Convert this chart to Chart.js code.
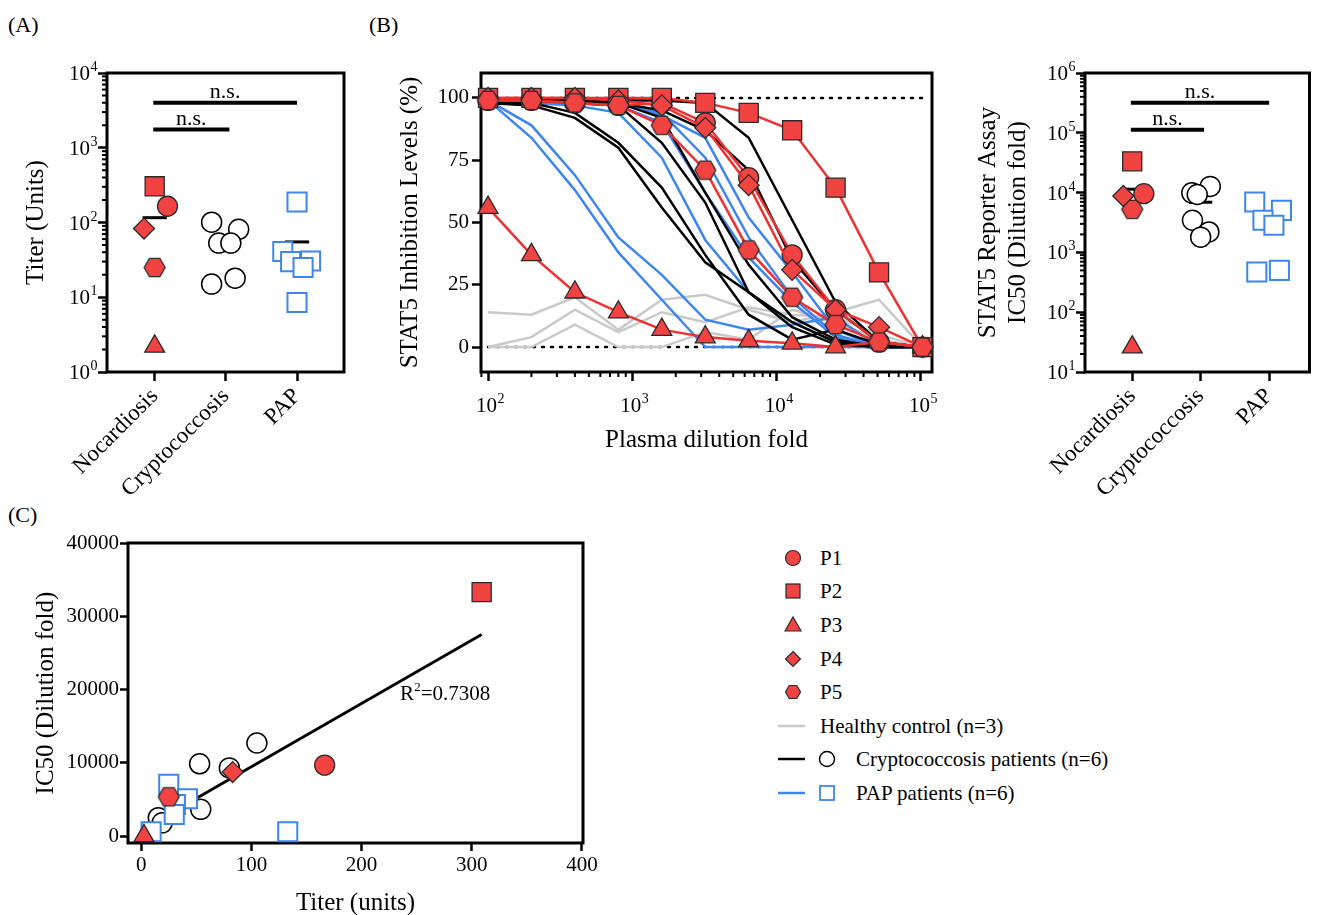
<!DOCTYPE html>
<html><head><meta charset="utf-8">
<script src="https://cdn.jsdelivr.net/npm/chart.js@4.4.1/dist/chart.umd.min.js"></script>
<style>
body{margin:0;background:#fff;width:1325px;height:915px;position:relative;overflow:hidden;font-family:"Liberation Serif","Times New Roman",serif;color:#000;}
canvas{position:absolute;}
.pl{position:absolute;font-size:22px;line-height:26px;}
.lg{position:absolute;left:776px;font-size:21px;line-height:24px;height:24px;white-space:nowrap;}
.lg svg{position:absolute;top:0;}
.lg span{position:absolute;top:0;}
</style></head><body>
<div class="pl" style="left:8px;top:12px">(A)</div>
<div class="pl" style="left:369px;top:12px">(B)</div>
<div class="pl" style="left:8px;top:502px">(C)</div>
<canvas id="cA" width="360" height="450" style="left:0;top:50px"></canvas>
<canvas id="cB" width="580" height="420" style="left:370px;top:50px"></canvas>
<canvas id="cR" width="365" height="450" style="left:960px;top:50px"></canvas>
<canvas id="cC" width="610" height="410" style="left:0;top:520px"></canvas>
<div id="legend"></div>
<script>
// ---------------- DATA ----------------
const groups = ['Nocardiosis', 'Cryptococcosis', 'PAP'];
const patientNames = ['P1', 'P2', 'P3', 'P4', 'P5'];

// Panel A: titer (Units)
const titerPatients = [165, 305, 2.2, 83, 25];
const titerPatientsJitter = [0.18, 0, 0, -0.15, 0];
const titerCrypto = [101, 81, 53, 53, 15, 18];
const titerCryptoJitter = [-0.2, 0.18, -0.1, 0.07, -0.2, 0.13];
const titerPAP = [188, 41, 30, 30.5, 25, 8.5];
const titerPAPJitter = [0, -0.2, -0.09, 0.19, 0.085, 0];
const titerMeans = [116, 53, 55];

// Panel B: STAT5 inhibition (%)
const dilutions = [100, 200, 400, 800, 1600, 3200, 6400, 12800, 25600, 51200, 102400];
const inhibP1 = [99, 99, 98, 97, 98, 90, 68, 37, 15, 2, 0];
const inhibP2 = [100, 100, 100, 100, 100, 98, 94, 87, 64, 30, 0];
const inhibP3 = [56, 37, 22, 14, 7, 4, 2.5, 1.5, 0, 2, 0];
const inhibP4 = [100, 100, 100, 99, 97, 88, 65, 31, 15, 8, 0];
const inhibP5 = [99, 99, 98, 97, 89, 71, 39, 20, 9, 2, 0];
const inhibHealthy1 = [14, 13, 20, 7, 19, 21, 15, 10, 14, 19, 0];
const inhibHealthy2 = [0, 4, 15, 6, 14, 10, 16, 13, 12, 5, 0];
const inhibHealthy3 = [0, 0, 9, 0, 0, 6, 3, 15, 10, 3, 0];
const inhibCrypto1 = [98, 98, 94, 82, 64, 37, 13, 3, 7, 1, 0];
const inhibCrypto2 = [98, 97, 92, 80, 56, 34, 22, 8, 1, 0, 0];
const inhibCrypto3 = [99, 99, 98, 97, 82, 58, 22, 10, 2, 0, 0];
const inhibCrypto4 = [99, 99, 99, 98, 95, 87, 71, 35, 15, 2, 0];
const inhibCrypto5 = [99, 99, 99, 99, 99, 98, 84, 51, 18, 2, 0];
const inhibCrypto6 = [99, 99, 99, 98, 92, 62, 33, 12, 3, 0, 0];
const inhibPAP1 = [99, 89, 69, 44, 29, 11, 7, 9, 12, 0, 0];
const inhibPAP2 = [99, 84, 63, 38, 19, 0, 0, 0, 0, 0, 0];
const inhibPAP3 = [99, 98, 97, 94, 76, 43, 22, 10, 2, 0, 0];
const inhibPAP4 = [99, 99, 98, 97, 90, 62, 36, 18, 4, 0, 0];
const inhibPAP5 = [99, 99, 99, 98, 93, 84, 52, 30, 7, 0, 0];
const inhibPAP6 = [99, 99, 99, 98, 94, 76, 44, 20, 5, 0, 0];

// Right panel: IC50 (dilution fold)
const ic50Patients = [9600, 33300, 26, 8770, 5250];
const ic50PatientsJitter = [0.17, 0, 0, -0.13, 0];
const ic50Crypto = [12700, 9900, 9300, 3450, 2200, 1800];
const ic50CryptoJitter = [0.14, -0.13, -0.05, -0.12, 0.12, 0];
const ic50PAP = [6970, 5050, 3440, 2840, 470, 500];
const ic50PAPJitter = [-0.21, 0.18, -0.09, 0.07, -0.18, 0.15];
const ic50Means = [11400, 6900, 3300];

// Panel C: titer vs IC50
const corrPatientsX = [166.5, 309, 2.5, 83, 25];
const corrPatientsY = [9680, 33300, 27, 8730, 5360];
const corrCryptoX = [105, 53, 80, 54, 15.5, 19];
const corrCryptoY = [12700, 9860, 9300, 3640, 2500, 1800];
const corrPAPX = [25, 42, 31, 30, 9, 133];
const corrPAPY = [7050, 5090, 4300, 2950, 590, 590];
const fitX = [51, 309];
const fitY = [5230, 27500];
const r2Text = '0.7308';

const logTicksA = [0, 1, 2, 3, 4];
const logTicksR = [1, 2, 3, 4, 5, 6];
const logTicksB = [2, 3, 4, 5];
const linTicksB = [0, 25, 50, 75, 100];
const linTicksCX = [0, 100, 200, 300, 400];
const linTicksCY = [0, 10000, 20000, 30000, 40000];

// ---------------- STYLE ----------------
const RED = '#F24343', REDLINE = '#EE3030', EDGE = '#2a2a2a', BLUE = '#3E86EE', GRAY = '#C9C9C9';
const FONT = "'Liberation Serif','Times New Roman',serif";
Chart.defaults.font.family = FONT;
Chart.defaults.color = '#000';
Chart.defaults.animation = false;

function hexImg(r, fill, stroke) {
  const s = Math.ceil(2 * r + 4);
  const c = document.createElement('canvas'); c.width = s; c.height = s;
  const g = c.getContext('2d');
  g.beginPath();
  for (let i = 0; i < 6; i++) {
    const a = Math.PI / 3 * i;
    const px = s / 2 + r * Math.cos(a), py = s / 2 + r * Math.sin(a);
    i ? g.lineTo(px, py) : g.moveTo(px, py);
  }
  g.closePath(); g.fillStyle = fill; g.fill(); g.lineWidth = 1.3; g.strokeStyle = stroke; g.stroke();
  return c;
}
const HEX = hexImg(10.5, RED, EDGE);
const pStyles = ['circle', 'rect', 'triangle', 'rectRot', HEX];
const pRadius = [10, 13.5, 11.5, 10.5, 10];

function powersToTicks(pows) {
  const t = [];
  for (let i = 0; i < pows.length; i++) {
    const p = pows[i];
    t.push(Math.pow(10, p));
    if (i < pows.length - 1) for (let m = 2; m <= 9; m++) t.push(m * Math.pow(10, p));
  }
  return t;
}
const isPow = v => { const e = Math.log10(v); return Math.abs(e - Math.round(e)) < 1e-9; };

// plugin: frame, minor ticks, log labels, text annotations
const deco = {
  id: 'deco',
  beforeDatasetsDraw(chart) {
    const { ctx, chartArea: a } = chart;
    ctx.save(); ctx.lineWidth = 3; ctx.strokeStyle = '#000';
    ctx.strokeRect(a.left, a.top, a.right - a.left, a.bottom - a.top);
    ctx.restore();
  },
  afterDraw(chart, args, o) {
    const { ctx, chartArea: a } = chart;
    ctx.save();
    (o.logAxes || []).forEach(id => {
      const sc = chart.scales[id];
      const horiz = sc.isHorizontal();
      sc.ticks.forEach(t => {
        const p = sc.getPixelForValue(t.value);
        if (!isPow(t.value)) {
          ctx.beginPath(); ctx.lineWidth = 2; ctx.strokeStyle = '#000';
          if (horiz) { ctx.moveTo(p, a.bottom); ctx.lineTo(p, a.bottom + 5); }
          else { ctx.moveTo(a.left, p); ctx.lineTo(a.left - 5, p); }
          ctx.stroke();
        } else {
          const e = String(Math.round(Math.log10(t.value)));
          ctx.fillStyle = '#000'; ctx.textBaseline = 'alphabetic';
          ctx.font = '21px ' + FONT; const w1 = ctx.measureText('10').width;
          ctx.font = '14px ' + FONT; const w2 = ctx.measureText(e).width;
          let x0, yb;
          if (horiz) { x0 = p - (w1 + w2) / 2 + 2; yb = a.bottom + 40; }
          else { x0 = a.left - 10 - (w1 + w2); yb = p + 7; }
          ctx.font = '21px ' + FONT; ctx.textAlign = 'left'; ctx.fillText('10', x0, yb);
          ctx.font = '14px ' + FONT; ctx.fillText(e, x0 + w1 + 0.5, yb - 9);
        }
      });
    });
    (o.texts || []).forEach(tx => {
      const x = chart.scales.x.getPixelForValue(tx.x), y = chart.scales.y.getPixelForValue(tx.y);
      ctx.fillStyle = '#000'; ctx.textBaseline = 'alphabetic';
      if (tx.sup) {
        ctx.font = '21px ' + FONT; ctx.textAlign = 'left';
        ctx.fillText(tx.pre, x, y);
        const w = ctx.measureText(tx.pre).width;
        ctx.font = '13px ' + FONT; ctx.fillText(tx.sup, x + w, y - 9);
        const w2 = ctx.measureText(tx.sup).width;
        ctx.font = '21px ' + FONT; ctx.fillText(tx.post, x + w + w2, y);
      } else {
        ctx.font = '22px ' + FONT; ctx.textAlign = 'center';
        ctx.fillText(tx.text, x, y - 5);
      }
    });
    ctx.restore();
  }
};
Chart.register(deco);

const tickGrid = (len) => ({ display: true, drawOnChartArea: false, drawTicks: true, tickLength: len, tickWidth: 2.5, color: 'rgba(0,0,0,0)', tickColor: '#000' });
const logGrid = () => ({ display: true, drawOnChartArea: false, drawTicks: true, tickLength: 9, tickWidth: 2.5, color: 'rgba(0,0,0,0)',
  tickColor: c => (c.tick && isPow(c.tick.value)) ? '#000' : 'rgba(0,0,0,0)' });
const basePlugins = { legend: { display: false }, tooltip: { enabled: false } };

function seg(x1, x2, y, w, order) {
  return { type: 'line', data: [{ x: x1, y: y }, { x: x2, y: y }], borderColor: '#000', borderWidth: w, pointRadius: 0, clip: false, order: order || 0 };
}
function catScatter(vals, jitter, cat, style) {
  return Object.assign({ type: 'scatter', data: vals.map((v, i) => ({ x: cat + jitter[i], y: v })), clip: false }, style);
}
const cryptoStyle = { pointStyle: 'circle', pointRadius: 10, backgroundColor: '#fff', borderColor: '#000', borderWidth: 1.5 };
const papStyle = { pointStyle: 'rect', pointRadius: 13.5, backgroundColor: '#fff', borderColor: BLUE, borderWidth: 2 };
const patStyle = i => ({ pointStyle: pStyles[i], pointRadius: pRadius[i], backgroundColor: RED, borderColor: EDGE, borderWidth: 1.3 });

// ---------- dot-plot builder (A and right panel) ----------
function dotPlot(canvasId, pVals, pJit, cVals, cJit, aVals, aJit, means, yMin, yMax, pows, bars, yTitle, layout) {
  const ds = [];
  bars.forEach(b => ds.push(seg(b[0], b[1], b[2], 4, 5)));
  means.forEach((m, i) => ds.push(seg(i + 1 - 0.17, i + 1 + 0.17, m, 3, 5)));
  ds.push(catScatter(cVals, cJit, 2, Object.assign({ order: 3 }, cryptoStyle)));
  ds.push(catScatter(aVals, aJit, 3, Object.assign({ order: 3 }, papStyle)));
  pVals.forEach((v, i) => ds.push(Object.assign({ type: 'scatter', data: [{ x: 1 + pJit[i], y: v }], clip: false, order: 1 }, patStyle(i))));
  return new Chart(document.getElementById(canvasId), {
    type: 'scatter',
    data: { datasets: ds },
    options: {
      responsive: false, animation: false, events: [],
      layout: { padding: { top: 23, right: layout.pr, left: 0, bottom: 0 } },
      scales: {
        x: { type: 'linear', min: layout.xmin, max: layout.xmax, border: { display: false }, grid: tickGrid(9),
          afterBuildTicks: s => { s.ticks = [1, 2, 3].map(v => ({ value: v })); },
          afterFit: s => { s.height = layout.xh; },
          ticks: { autoSkip: false, minRotation: 45, maxRotation: 45, padding: 2, font: { size: 23 }, callback: v => groups[v - 1] || '' } },
        y: { type: 'logarithmic', min: yMin, max: yMax, border: { display: false }, grid: logGrid(),
          afterBuildTicks: s => { s.ticks = powersToTicks(pows).map(v => ({ value: v })); },
          afterFit: s => { s.width = layout.yw; },
          ticks: { autoSkip: false, callback: () => '' },
          title: { display: true, text: yTitle, font: { size: 25, lineHeight: 1.2 }, padding: { top: layout.tpt, bottom: 0 } } }
      },
      plugins: Object.assign({}, basePlugins, { deco: { logAxes: ['y'], texts: bars.map(b => ({ x: (b[0] + b[1]) / 2, y: b[2], text: 'n.s.' })) } })
    }
  });
}

dotPlot('cA', titerPatients, titerPatientsJitter, titerCrypto, titerCryptoJitter, titerPAP, titerPAPJitter, titerMeans,
  1, 10000, logTicksA, [[0.98, 3.0, 4000], [0.98, 2.05, 1750]], 'Titer (Units)',
  { pr: 16, xmin: 0.33, xmax: 3.66, xh: 128, yw: 107, tpt: 21 });

dotPlot('cR', ic50Patients, ic50PatientsJitter, ic50Crypto, ic50CryptoJitter, ic50PAP, ic50PAPJitter, ic50Means,
  10, 1000000, logTicksR, [[0.98, 3.0, 319000], [0.98, 2.05, 113000]], ['STAT5 Reporter Assay', 'IC50 (Dilution fold)'],
  { pr: 7, xmin: 0.31, xmax: 3.59, xh: 128, yw: 125, tpt: 13 });

// ---------- Panel B ----------
(function () {
  const ds = [];
  const line = (arr, color, order) => ({ type: 'line', data: dilutions.map((d, i) => ({ x: d, y: arr[i] })), borderColor: color, borderWidth: 2.5, pointRadius: 0, tension: 0, clip: false, order: order });
  ds.push({ type: 'line', data: [{ x: 100, y: 100 }, { x: 102400, y: 100 }], borderColor: '#000', borderWidth: 2.5, borderDash: [2, 7], borderCapStyle: 'round', pointRadius: 0, order: 20 });
  ds.push({ type: 'line', data: [{ x: 100, y: 0 }, { x: 102400, y: 0 }], borderColor: '#000', borderWidth: 2.5, borderDash: [2, 7], borderCapStyle: 'round', pointRadius: 0, order: 20 });
  [inhibHealthy1, inhibHealthy2, inhibHealthy3].forEach(a => ds.push(line(a, GRAY, 15)));
  [inhibPAP1, inhibPAP2, inhibPAP3, inhibPAP4, inhibPAP5, inhibPAP6].forEach(a => ds.push(line(a, BLUE, 12)));
  [inhibCrypto1, inhibCrypto2, inhibCrypto3, inhibCrypto4, inhibCrypto5, inhibCrypto6].forEach(a => ds.push(line(a, '#000', 10)));
  [inhibP1, inhibP2, inhibP3, inhibP4, inhibP5].forEach((a, i) => {
    const d = line(a, REDLINE, 5 - i);
    Object.assign(d, { pointStyle: pStyles[i], pointRadius: pRadius[i], pointBackgroundColor: RED, pointBorderColor: EDGE, pointBorderWidth: 1.3 });
    ds.push(d);
  });
  new Chart(document.getElementById('cB'), {
    type: 'line',
    data: { datasets: ds },
    options: {
      responsive: false, animation: false, events: [],
      layout: { padding: { top: 23, right: 18, left: 0, bottom: 0 } },
      scales: {
        x: { type: 'logarithmic', min: 89.4, max: 119200, border: { display: false }, grid: logGrid(),
          afterBuildTicks: s => { s.ticks = [90].concat(powersToTicks(logTicksB)).map(v => ({ value: v })); },
          afterFit: s => { s.height = 98; },
          ticks: { autoSkip: false, maxRotation: 0, callback: () => '' },
          title: { display: true, text: 'Plasma dilution fold', font: { size: 25, lineHeight: 1.2 }, padding: { top: 0, bottom: 15 } } },
        y: { type: 'linear', min: -10, max: 110, border: { display: false }, grid: tickGrid(9),
          afterBuildTicks: s => { s.ticks = linTicksB.map(v => ({ value: v })); },
          afterFit: s => { s.width = 111; },
          ticks: { autoSkip: false, padding: 3, font: { size: 21 }, callback: v => String(v) },
          title: { display: true, text: 'STAT5 Inhibition Levels (%)', font: { size: 25, lineHeight: 1.2 }, padding: { top: 25, bottom: 0 } } }
      },
      plugins: Object.assign({}, basePlugins, { deco: { logAxes: ['x'] } })
    }
  });
})();

// ---------- Panel C ----------
(function () {
  const ds = [];
  ds.push({ type: 'line', data: fitX.map((x, i) => ({ x: x, y: fitY[i] })), borderColor: '#000', borderWidth: 2.8, pointRadius: 0, order: 10 });
  ds.push(Object.assign({ type: 'scatter', data: corrCryptoX.map((x, i) => ({ x: x, y: corrCryptoY[i] })), clip: false, order: 6 }, cryptoStyle));
  ds.push(Object.assign({ type: 'scatter', data: corrPAPX.map((x, i) => ({ x: x, y: corrPAPY[i] })), clip: false, order: 5 }, papStyle));
  corrPatientsX.forEach((x, i) => ds.push(Object.assign({ type: 'scatter', data: [{ x: x, y: corrPatientsY[i] }], clip: false, order: 1 }, patStyle(i))));
  new Chart(document.getElementById('cC'), {
    type: 'scatter',
    data: { datasets: ds },
    options: {
      responsive: false, animation: false, events: [],
      layout: { padding: { top: 23, right: 27, left: 0, bottom: 0 } },
      scales: {
        x: { type: 'linear', min: -12, max: 401, border: { display: false }, grid: tickGrid(8),
          afterBuildTicks: s => { s.ticks = linTicksCX.map(v => ({ value: v })); },
          afterFit: s => { s.height = 87; },
          ticks: { autoSkip: false, maxRotation: 0, padding: 2, font: { size: 21 }, callback: v => String(v) },
          title: { display: true, text: 'Titer (units)', font: { size: 25, lineHeight: 1.2 }, padding: { top: 0, bottom: 12 } } },
        y: { type: 'linear', min: -950, max: 40000, border: { display: false }, grid: tickGrid(8),
          afterBuildTicks: s => { s.ticks = linTicksCY.map(v => ({ value: v })); },
          afterFit: s => { s.width = 128; },
          ticks: { autoSkip: false, padding: 1, font: { size: 21 }, callback: v => String(v) },
          title: { display: true, text: 'IC50 (Dilution fold)', font: { size: 25, lineHeight: 1.2 }, padding: { top: 31, bottom: 0 } } }
      },
      plugins: Object.assign({}, basePlugins, { deco: { texts: [{ x: 235, y: 18600, pre: 'R', sup: '2', post: '=' + r2Text }] } })
    }
  });
})();

// ---------- Legend ----------
(function () {
  const L = document.getElementById('legend');
  const shape = i => {
    const c = 'fill="' + RED + '" stroke="' + EDGE + '" stroke-width="1.2"';
    return ['<circle cx="9" cy="12" r="7.5" ' + c + '/>',
      '<rect x="2" y="5" width="14" height="14" ' + c + '/>',
      '<polygon points="9,4 17,18 1,18" ' + c + '/>',
      '<polygon points="9,4.5 16.5,12 9,19.5 1.5,12" ' + c + '/>',
      '<polygon points="1.5,12 5.2,5.5 12.8,5.5 16.5,12 12.8,18.5 5.2,18.5" ' + c + '/>'][i];
  };
  const tops = [546, 579, 613, 647, 680, 714, 747, 781];
  let html = '';
  patientNames.forEach((n, i) => {
    html += '<div class="lg" style="top:' + tops[i] + 'px"><svg width="20" height="24" style="left:8px">' + shape(i) + '</svg><span style="left:44px">' + n + '</span></div>';
  });
  html += '<div class="lg" style="top:' + tops[5] + 'px"><svg width="30" height="24" style="left:2px"><line x1="0" y1="12" x2="27" y2="12" stroke="' + GRAY + '" stroke-width="2.5"/></svg><span style="left:44px">Healthy control (n=3)</span></div>';
  html += '<div class="lg" style="top:' + tops[6] + 'px"><svg width="30" height="24" style="left:2px"><line x1="0" y1="12" x2="27" y2="12" stroke="#000" stroke-width="2.5"/></svg><svg width="20" height="24" style="left:42px"><circle cx="9" cy="12" r="7.5" fill="#fff" stroke="#000" stroke-width="1.4"/></svg><span style="left:80px">Cryptococcosis patients (n=6)</span></div>';
  html += '<div class="lg" style="top:' + tops[7] + 'px"><svg width="30" height="24" style="left:2px"><line x1="0" y1="12" x2="27" y2="12" stroke="' + BLUE + '" stroke-width="2.5"/></svg><svg width="20" height="24" style="left:42px"><rect x="2" y="5" width="14" height="14" fill="#fff" stroke="' + BLUE + '" stroke-width="1.8"/></svg><span style="left:80px">PAP patients (n=6)</span></div>';
  L.innerHTML = html;
})();
</script>
</body></html>
